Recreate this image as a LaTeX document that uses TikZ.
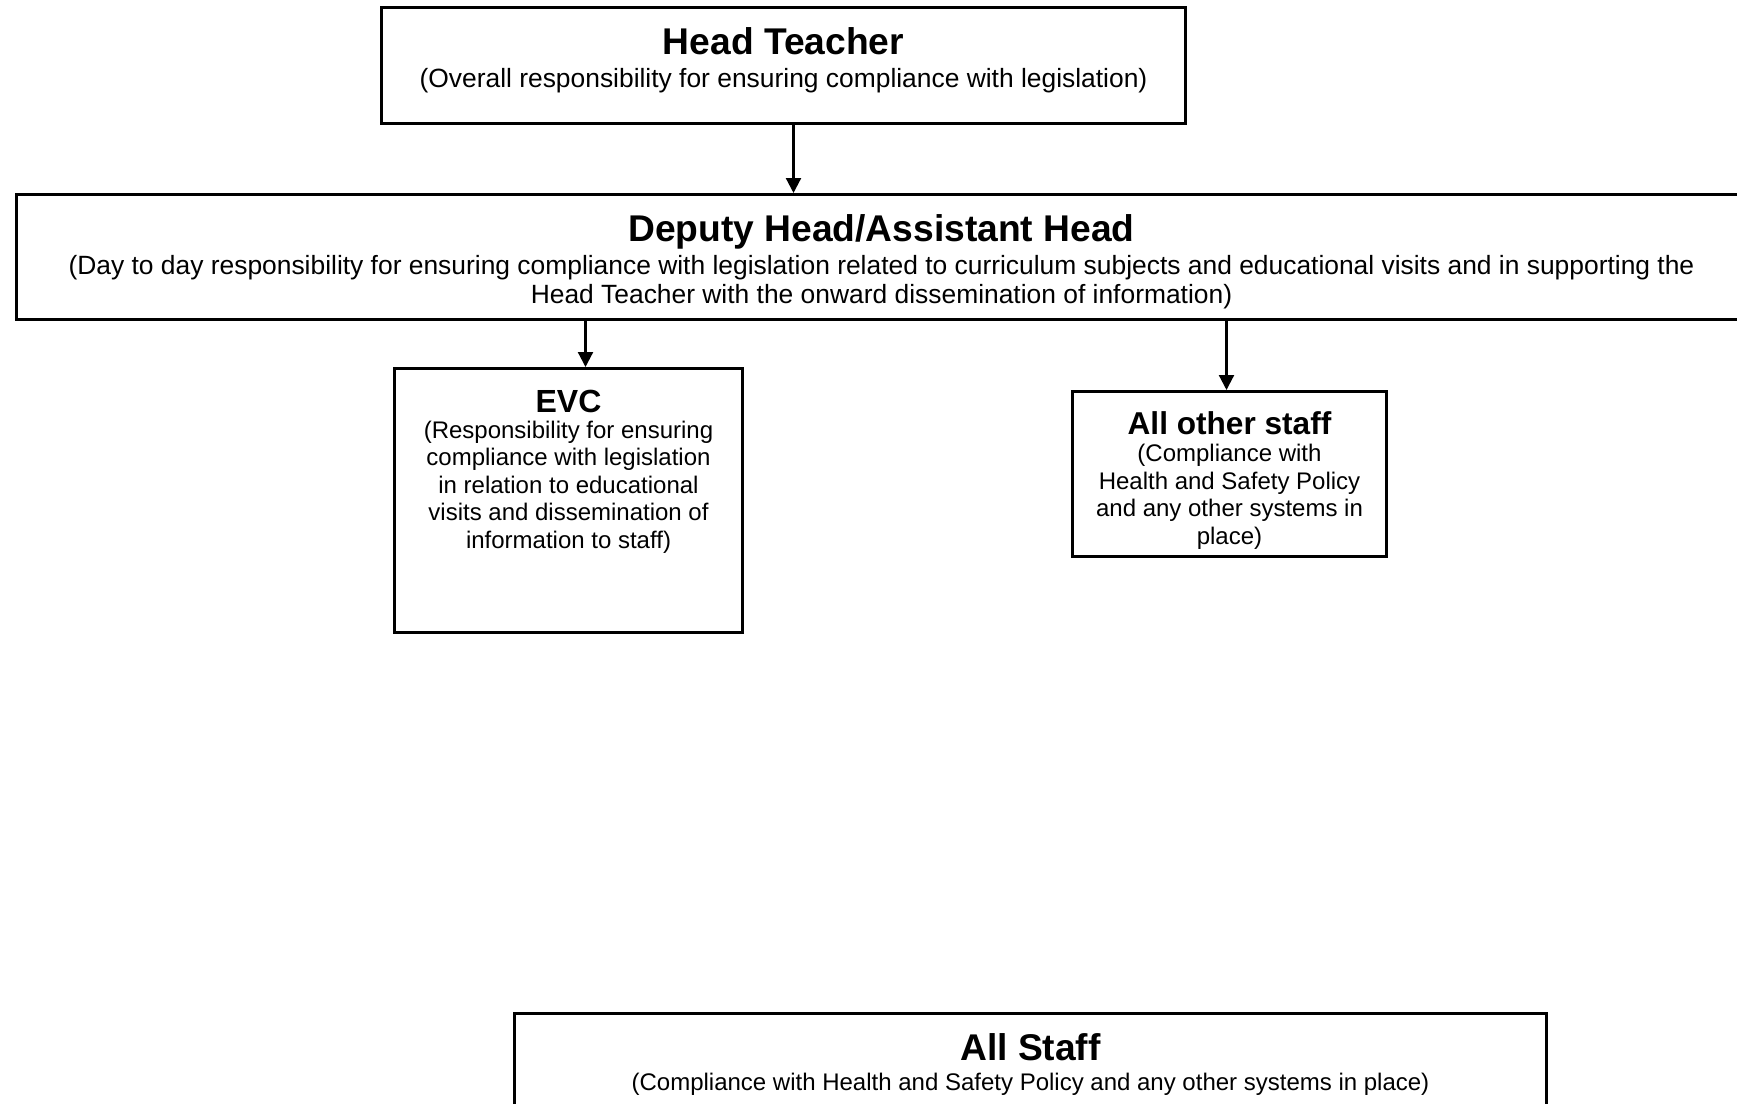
\documentclass[tikz,border=0pt]{standalone}
\usepackage{fontspec}
\setmainfont{Liberation Sans}
\usetikzlibrary{arrows.meta}
\newcommand{\Khung}[8]{\parbox[c][#2][t]{#1}{\centering\fontsize{#3}{#5}\selectfont\bfseries\rule{0pt}{\dimexpr 10.3pt+#3pt*72/100\relax}#7\\[#6]\fontsize{#4}{#5}\selectfont\mdseries #8}}
\begin{document}
\begin{tikzpicture}[x=0.5pt,y=-0.5pt]
	\useasboundingbox (0,0)rectangle(1737,1104);
	\tikzset{Hop/.style={draw,line width=1.5pt,inner sep=0pt,anchor=north west}}
	\tikzset{Mui/.style={-{Triangle[length=7.5pt,width=7.5pt]},line width=1.1pt}}
	\node[Hop](HT) at (380,6){\Khung{402pt}{58pt}{18.6}{13.2}{14.6pt}{1.5pt}{Head Teacher}{(Overall responsibility for ensuring compliance with legislation)}};
	\node[Hop](DH) at (15,193){\Khung{865pt}{62.5pt}{18.6}{13.2}{14.6pt}{1.5pt}{Deputy Head/Assistant Head}{(Day to day responsibility for ensuring compliance with legislation related to curriculum subjects and educational visits and in supporting the\\Head Teacher with the onward dissemination of information)}};
	\node[Hop](EVC) at (393,367){\Khung{174pt}{132pt}{16}{12}{13.8pt}{-0.8pt}{EVC}{(Responsibility for ensuring\\compliance with legislation\\in relation to educational\\visits and dissemination of\\information to staff)}};
	\node[Hop](AOS) at (1071,390){\Khung{157pt}{82.5pt}{15.8}{12}{13.8pt}{-0.4pt}{All other staff}{(Compliance with\\Health and Safety Policy\\and any other systems in\\place)}};
	\node[Hop](AS) at (513,1012){\Khung{516pt}{60pt}{18.6}{12}{13.8pt}{1pt}{All Staff}{(Compliance with Health and Safety Policy and any other systems in place)}};
	\draw[Mui]([xshift=5pt]HT.south)--([xshift=5pt]HT.south|-DH.north);
	\draw[Mui]([xshift=8.5pt]EVC.north|-DH.south)--([xshift=8.5pt]EVC.north);
	\draw[Mui]([xshift=-1.5pt]AOS.north|-DH.south)--([xshift=-1.5pt]AOS.north);
\end{tikzpicture}
\end{document}
